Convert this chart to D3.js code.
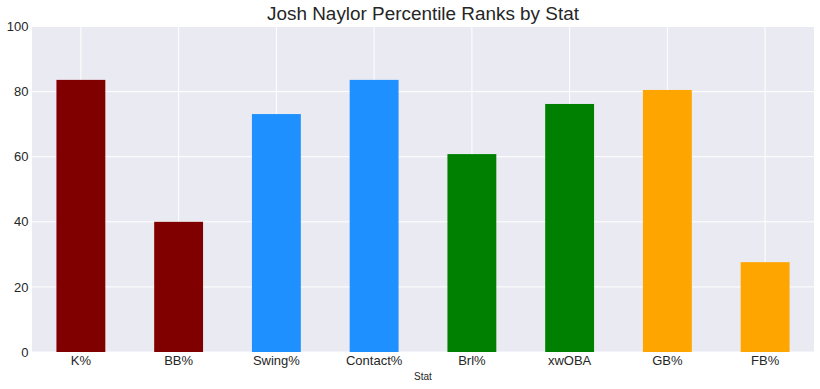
<!DOCTYPE html>
<html>
<head>
<meta charset="utf-8">
<script src="https://cdn.jsdelivr.net/npm/d3@7"></script>
<style>
  body { margin: 0; background: #fff; }
  svg { display: block; font-family: "Liberation Sans", Arial, sans-serif; }
</style>
</head>
<body>
<svg id="chart" width="820" height="389"></svg>
<script>
const stats = ["K%", "BB%", "Swing%", "Contact%", "Brl%", "xwOBA", "GB%", "FB%"];
const percentiles = [83.6, 40, 73.1, 83.6, 60.8, 76.2, 80.5, 27.6];
const barColors = ["#800000", "#800000", "#1e90ff", "#1e90ff", "#008000", "#008000", "#ffa500", "#ffa500"];
const yTicks = [0, 20, 40, 60, 80, 100];

const svg = d3.select("#chart");
const margin = { top: 26.5, right: 6, bottom: 37, left: 32 };
const width = 820 - margin.left - margin.right;
const height = 389 - margin.top - margin.bottom;

const g = svg.append("g").attr("transform", `translate(${margin.left},${margin.top})`);

const x = d3.scaleBand().domain(stats).range([0, width]).paddingInner(0.5).paddingOuter(0.25);
const y = d3.scaleLinear().domain([0, 100]).range([height, 0]);

g.append("rect")
    .attr("width", width)
    .attr("height", height)
    .attr("fill", "#eaeaf2");

// grid
g.selectAll(".hgrid").data(yTicks).join("line")
    .attr("x1", 0).attr("x2", width)
    .attr("y1", d => y(d)).attr("y2", d => y(d))
    .attr("stroke", "#fff").attr("stroke-width", 1);
g.selectAll(".vgrid").data(stats).join("line")
    .attr("x1", d => x(d) + x.bandwidth() / 2).attr("x2", d => x(d) + x.bandwidth() / 2)
    .attr("y1", 0).attr("y2", height)
    .attr("stroke", "#fff").attr("stroke-width", 1);

g.selectAll(".bar").data(stats).join("rect")
    .attr("x", d => x(d))
    .attr("width", x.bandwidth())
    .attr("y", (d, i) => y(percentiles[i]))
    .attr("height", (d, i) => height - y(percentiles[i]))
    .attr("fill", (d, i) => barColors[i]);

// axes
const xAxis = g.append("g")
    .attr("transform", `translate(0,${height})`)
    .call(d3.axisBottom(x).tickSize(0).tickPadding(4));
xAxis.select(".domain").remove();
xAxis.selectAll("text").attr("font-size", 13).attr("fill", "#262626")
    .attr("font-family", "Liberation Sans, Arial, sans-serif");

const yAxis = g.append("g")
    .call(d3.axisLeft(y).tickValues(yTicks).tickSize(0).tickPadding(3.5));
yAxis.select(".domain").remove();
yAxis.selectAll("text").attr("font-size", 13).attr("fill", "#262626")
    .attr("font-family", "Liberation Sans, Arial, sans-serif");

svg.append("text")
    .attr("x", margin.left + width / 2)
    .attr("y", 20)
    .attr("text-anchor", "middle")
    .attr("font-size", 18.9)
    .attr("fill", "#262626")
    .text("Josh Naylor Percentile Ranks by Stat");

svg.append("text")
    .attr("x", margin.left + width / 2)
    .attr("y", 380)
    .attr("text-anchor", "middle")
    .attr("font-size", 10)
    .attr("fill", "#262626")
    .text("Stat");
</script>
</body>
</html>
